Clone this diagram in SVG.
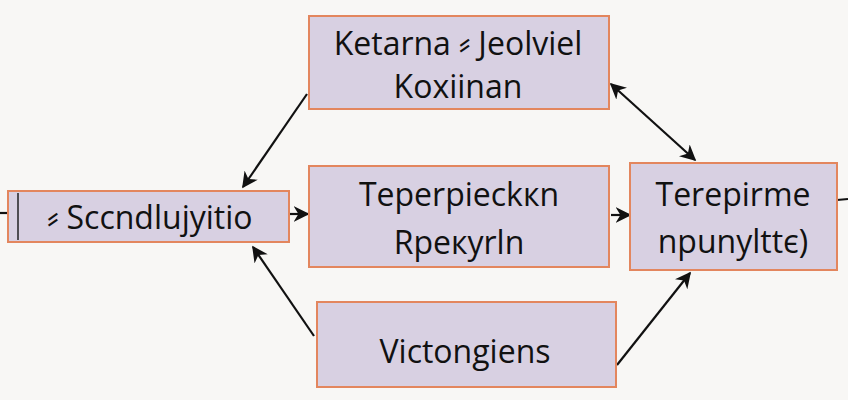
<svg xmlns="http://www.w3.org/2000/svg" width="848" height="400" viewBox="0 0 848 400">
<defs>
<style>
.box{fill:#d8d0e2;stroke:#e3865e;stroke-width:2}
.t{font-family:"Open Sans","Noto Sans",sans-serif;font-size:32px;fill:#111;text-anchor:middle}
.c{stroke:#111;stroke-width:2.2;fill:none}
</style>
<marker id="ah2" viewBox="0 0 10 10" refX="9" refY="5" markerWidth="16" markerHeight="16" orient="auto-start-reverse" markerUnits="userSpaceOnUse">
<path d="M0,0 L10,5 L0,10 L3,5 Z" fill="#111"/>
</marker>
</defs>
<rect width="848" height="400" fill="#f8f7f5"/>
<g id="connectors">
<line class="c" x1="307" y1="94" x2="243" y2="187" marker-end="url(#ah2)"/>
<line class="c" x1="611" y1="84" x2="695" y2="160" marker-start="url(#ah2)" marker-end="url(#ah2)"/>
<line class="c" x1="290" y1="214" x2="308" y2="214" marker-end="url(#ah2)"/>
<line class="c" x1="611" y1="215" x2="630" y2="215" marker-end="url(#ah2)"/>
<line class="c" x1="314" y1="336" x2="253" y2="247" marker-end="url(#ah2)"/>
<line class="c" x1="617" y1="365" x2="690" y2="273" marker-end="url(#ah2)"/>
<line class="c" x1="0" y1="213" x2="8" y2="213"/>
<line class="c" x1="837" y1="200" x2="848" y2="199"/>
</g>
<g id="node-top">
<rect class="box" x="309" y="16" width="300" height="93"/>
<text class="t" x="458" y="55">Ketarna ⸗ Jeolviel</text>
<text class="t" x="458" y="98">Koxiinan</text>
</g>
<g id="node-left">
<rect class="box" x="8" y="191" width="281" height="51"/>
<line x1="18" y1="193" x2="18" y2="240" stroke="#222" stroke-width="1.5"/>
<text class="t" x="150" y="229">⸗ Sccndlujyitio</text>
</g>
<g id="node-center">
<rect class="box" x="309" y="166" width="300" height="101"/>
<text class="t" x="459" y="206">Teperpieckкn</text>
<text class="t" x="459" y="254">Rpeкyrln</text>
</g>
<g id="node-right">
<rect class="box" x="630" y="163" width="207" height="107"/>
<text class="t" x="733" y="206">Terepirme</text>
<text class="t" x="733" y="253">npunylttє)</text>
</g>
<g id="node-bottom">
<rect class="box" x="317" y="302" width="299" height="85"/>
<text class="t" x="465" y="363">Victongiens</text>
</g>
</svg>
